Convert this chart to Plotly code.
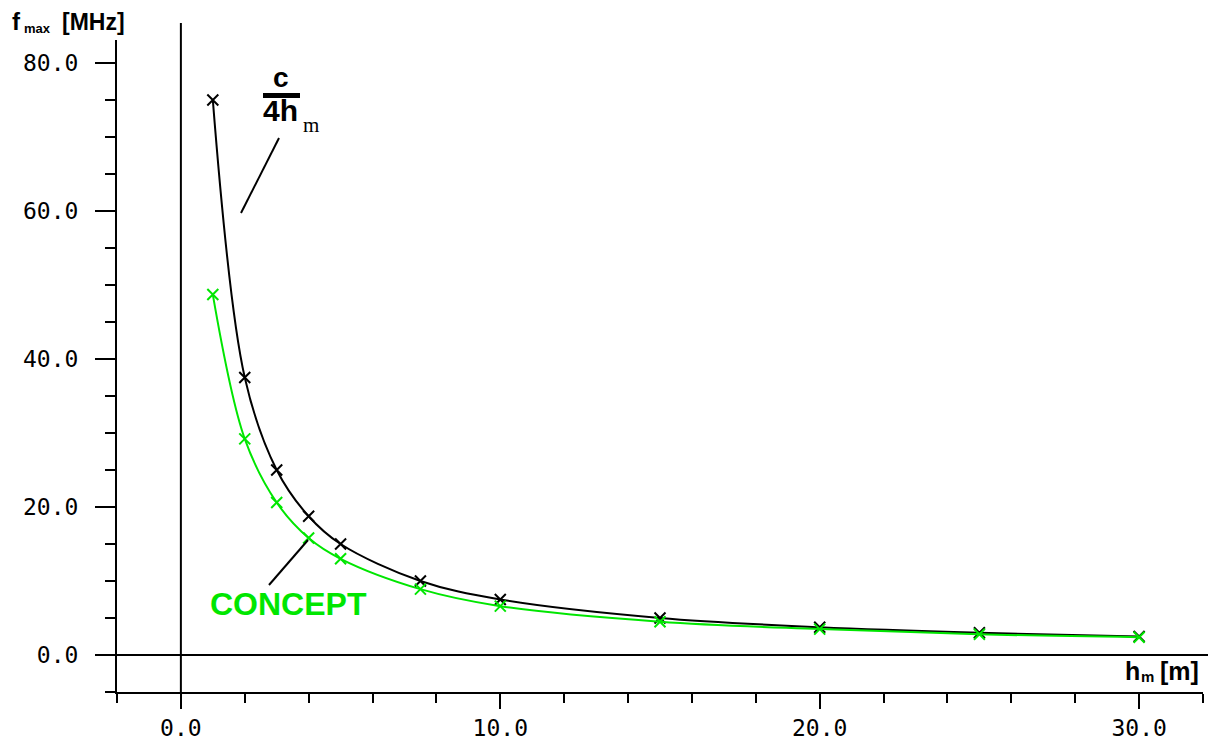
import plotly.graph_objects as go

# Mast height h_m [m] and the resulting frequency limit f_max [MHz]
h_m = [1, 2, 3, 4, 5, 7.5, 10, 15, 20, 25, 30]
f_quarter_wave = [75.0, 37.5, 25.0, 18.75, 15.0, 10.0, 7.5, 5.0, 3.75, 3.0, 2.5]   # c / (4 h_m)
f_concept = [48.7, 29.2, 20.6, 15.8, 13.0, 8.9, 6.6, 4.5, 3.5, 2.8, 2.4]          # CONCEPT results

x_ticks = [0, 10, 20, 30]
x_tick_text = ["0.0", "10.0", "20.0", "30.0"]
y_ticks = [0, 20, 40, 60, 80]
y_tick_text = ["0.0", "20.0", "40.0", "60.0", "80.0"]

BLACK = "#000000"
GREEN = "#00e600"

# canvas geometry (pixels)
W, H = 1208, 743
L, R, T, B = 117, 1203, 40, 692
X_RANGE = [-2.0, 32.0]
Y_RANGE = [-5.0, 83.1]


def paper_x(px):
    """pixel column -> paper fraction"""
    return (px - L) / (R - L)


def paper_y(py):
    """pixel row -> paper fraction"""
    return (B - py) / (B - T)


fig = go.Figure()

fig.add_trace(go.Scatter(
    x=h_m, y=f_quarter_wave, mode="lines+markers", line_shape="spline",
    line=dict(color=BLACK, width=2),
    marker=dict(symbol="x-thin-open", size=11, line=dict(color=BLACK, width=2)),
    name="c/4h", showlegend=False,
))
fig.add_trace(go.Scatter(
    x=h_m, y=f_concept, mode="lines+markers", line_shape="spline",
    line=dict(color=GREEN, width=2),
    marker=dict(symbol="x-thin-open", size=11, line=dict(color=GREEN, width=2)),
    name="CONCEPT", showlegend=False,
))

shapes = [
    # horizontal zero line (runs to the right edge)
    dict(type="line", xref="paper", yref="y", x0=0, x1=paper_x(W), y0=0, y1=0,
         line=dict(color=BLACK, width=2)),
    # vertical zero line
    dict(type="line", xref="x", yref="paper", x0=0, x1=0, y0=0, y1=paper_y(23),
         line=dict(color=BLACK, width=2)),
    # x axis extended to the left under the y axis
    dict(type="line", xref="paper", yref="paper", x0=paper_x(107), x1=0, y0=0, y1=0,
         line=dict(color=BLACK, width=2)),
    # fraction bar of c/4h_m
    dict(type="rect", xref="paper", yref="paper",
         x0=paper_x(263), x1=paper_x(300), y0=paper_y(98), y1=paper_y(93),
         fillcolor=BLACK, line=dict(width=0)),
    # leader lines
    dict(type="line", xref="paper", yref="paper",
         x0=paper_x(279), y0=paper_y(138), x1=paper_x(241), y1=paper_y(213),
         line=dict(color=BLACK, width=2)),
    dict(type="line", xref="paper", yref="paper",
         x0=paper_x(308), y0=paper_y(540), x1=paper_x(269), y1=paper_y(585),
         line=dict(color=BLACK, width=2)),
]

BOLD = "Liberation Sans"


def label(text, px, py, size, color=BLACK, family=BOLD, weight="bold", xanchor="left"):
    return dict(text=text, xref="paper", yref="paper", x=paper_x(px), y=paper_y(py),
                xanchor=xanchor, yanchor="middle", showarrow=False,
                font=dict(family=family, size=size, color=color, weight=weight))


annotations = [
    label("c", 281, 77, 28, xanchor="center"),
    label("4h", 261, 110, 30),
    label("m", 301, 125, 21, family="Liberation Serif", weight="normal"),
    label("CONCEPT", 288, 604, 32, color=GREEN, xanchor="center"),
    label("f", 10, 22, 24),
    label("max", 22, 28, 13),
    label("[MHz]", 60, 22, 23),
    label("h", 1123, 671, 25),
    label("m", 1139, 676, 15),
    label("[m]", 1158, 671, 25),
]

TICK_FONT = dict(family="DejaVu Sans Mono", size=23, color=BLACK)

fig.update_layout(
    width=W, height=H,
    margin=dict(l=L, r=W - R, t=T, b=H - B, pad=0, autoexpand=False),
    paper_bgcolor="white", plot_bgcolor="white",
    shapes=shapes, annotations=annotations,
    xaxis=dict(
        range=X_RANGE, showgrid=False, zeroline=False, automargin=False,
        showline=True, linecolor=BLACK, linewidth=2,
        tickmode="array", tickvals=x_ticks, ticktext=x_tick_text,
        ticks="outside", ticklen=15, tickwidth=2, tickcolor=BLACK,
        tickfont=TICK_FONT, ticklabelstandoff=-1,
        minor=dict(dtick=2, tick0=0, ticks="outside", ticklen=9, tickwidth=2,
                   tickcolor=BLACK, showgrid=False),
    ),
    yaxis=dict(
        range=Y_RANGE, showgrid=False, zeroline=False, automargin=False,
        showline=True, linecolor=BLACK, linewidth=2,
        tickmode="array", tickvals=y_ticks, ticktext=y_tick_text,
        ticks="outside", ticklen=20, tickwidth=2, tickcolor=BLACK,
        tickfont=TICK_FONT, ticklabelstandoff=12,
        minor=dict(dtick=5, tick0=0, ticks="outside", ticklen=10, tickwidth=2,
                   tickcolor=BLACK, showgrid=False),
    ),
)

fig.write_html("out.html")
